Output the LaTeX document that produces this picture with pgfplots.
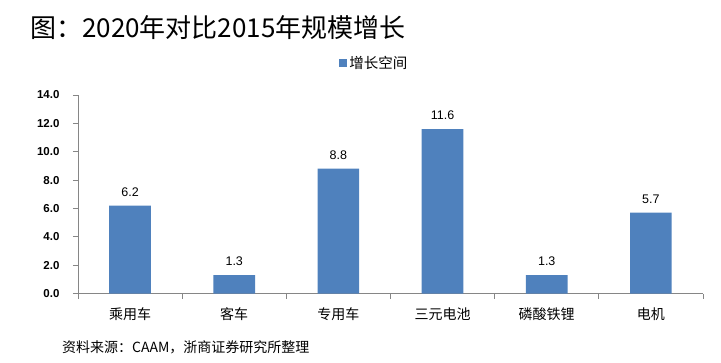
\documentclass[border=0pt]{standalone}
\usepackage{fontspec}
\setmainfont{Liberation Sans}
\newfontfamily\cjk{Noto Sans CJK SC}
\usepackage{pgfplots}
\pgfplotsset{compat=1.18}
\definecolor{barblue}{HTML}{4F81BD}
\definecolor{axgray}{HTML}{868686}
\begin{document}
\begin{tikzpicture}[x=1pt,y=1pt]
\useasboundingbox (0,0) rectangle (721,362);
\begin{axis}[
  at={(78pt,68.5pt)}, anchor=south west,
  scale only axis, width=625pt, height=198.5pt,
  xmin=-0.5, xmax=5.5, ymin=0, ymax=14,
  axis x line*=bottom, axis y line*=left,
  axis line style={axgray, line width=0.8pt},
  ybar, bar width=0.4,
  xtick={0,...,5},
  xticklabels={乘用车,客车,专用车,三元电池,磷酸铁锂,电机},
  major x tick style={draw=none},
  minor xtick={-0.5,0.5,...,5.5},
  minor x tick style={axgray, line width=0.8pt},
  y tick style={axgray, line width=0.8pt},
  tick align=outside,
  major tick length=5pt, minor tick length=5pt,
  ytick={0,2,...,14},
  /pgf/number format/assume math mode=true,
  yticklabel style={/pgf/number format/.cd, fixed, fixed zerofill, precision=1, /tikz/.cd, font=\bfseries\fontsize{11.5}{11.5}\selectfont, xshift=-10pt},
  xticklabel style={font=\cjk\fontsize{14}{14}\selectfont, yshift=-6pt},
  nodes near coords,
  nodes near coords style={/pgf/number format/.cd, fixed, fixed zerofill, precision=1, /tikz/.cd},
  every node near coord/.append style={font=\fontsize{12.5}{12.5}\selectfont, black, yshift=5.5pt},
  legend style={at={(0.418,1.16)}, anchor=west, draw=none, fill=none, inner sep=0pt,
    font=\cjk\fontsize{14.5}{14.5}\selectfont},
  legend image code/.code={\fill[barblue] (0pt,-4pt) rectangle (8pt,4pt);},
]
\addplot[fill=barblue, draw=none] coordinates {(0,6.2)(1,1.3)(2,8.8)(3,11.6)(4,1.3)(5,5.7)};
\addlegendentry{增长空间}
\end{axis}
\node[anchor=west, inner sep=0pt, font=\cjk\fontsize{26}{26}\selectfont] at (30,334) {图：2020年对比2015年规模增长};
\node[anchor=west, inner sep=0pt, font=\cjk\fontsize{14}{14}\selectfont] at (62,15) {资料来源：CAAM，浙商证券研究所整理};
\end{tikzpicture}
\end{document}
